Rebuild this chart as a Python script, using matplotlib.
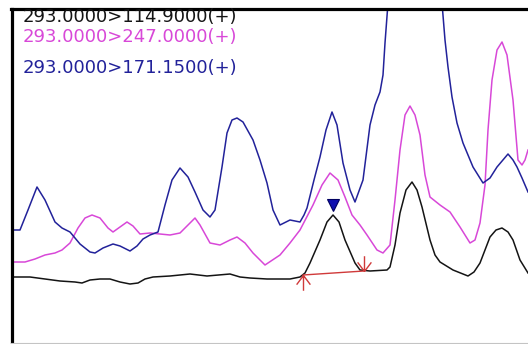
import matplotlib
matplotlib.use("Agg")
import matplotlib.pyplot as plt
from matplotlib.path import Path

# retention time (arbitrary units) / intensity readings per trace
black_t = [13, 30, 45, 60, 75, 82, 90, 100, 110, 120, 130, 138, 145, 153, 170, 190, 207,
           230, 240, 250, 267, 290, 300, 305, 310, 320, 327, 333, 339, 345, 355, 360, 370,
           387, 390, 395, 400, 406, 412, 417, 422, 430, 435, 440, 453, 468, 474, 480, 490,
           496, 502, 508, 513, 520, 528]
black_i = [67, 67, 65, 63, 62, 61, 64, 65, 65, 62, 60, 61, 65, 67, 68, 70, 68,
           70, 67, 66, 65, 65, 67, 71, 81, 104, 122, 129, 122, 104, 81, 74, 73,
           74, 77, 99, 131, 154, 162, 154, 137, 104, 89, 82, 74, 68, 72, 81, 107,
           114, 116, 112, 104, 84, 71]

magenta_t = [13, 25, 35, 45, 55, 62, 70, 78, 85, 92, 100, 108, 113, 120, 127, 133, 140,
             150, 170, 180, 188, 195, 200, 210, 220, 230, 237, 245, 253, 265, 280, 290,
             300, 313, 322, 330, 338, 345, 352, 360, 367, 377, 383, 390, 395, 400, 405,
             410, 415, 420, 425, 430, 440, 450, 460, 470, 475, 480, 485, 488, 492, 497,
             502, 507, 513, 518, 522, 525, 528]
magenta_i = [82, 82, 85, 89, 91, 94, 101, 116, 126, 129, 126, 116, 112, 117, 122, 118, 110,
             111, 109, 111, 119, 126, 119, 101, 99, 104, 107, 101, 91, 79, 89, 101,
             114, 139, 159, 171, 164, 147, 129, 119, 109, 94, 91, 99, 144, 194, 229,
             238, 229, 209, 169, 147, 139, 132, 117, 101, 104, 121, 159, 214, 264, 294,
             302, 289, 244, 184, 179, 184, 194]

# the big blue peak runs off scale, only its flanks are visible
blue_t = [13, 20, 28, 37, 45, 55, 62, 70, 80, 90, 95, 103, 113, 120, 130, 137, 143, 150,
          158, 165, 172, 180, 188, 195, 203, 210, 215, 222, 227, 232, 237, 243, 253, 260,
          267, 273, 280, 290, 300, 304, 307, 314, 320, 326, 332, 337, 343, 350, 355, 363,
          370, 375, 380, 383, 385, 388, 415, 442, 445, 448, 452, 457, 463,
          473, 483, 490, 497, 508, 513, 517, 522, 528]
blue_i = [114, 114, 134, 157, 144, 122, 116, 112, 100, 92, 91, 96, 100, 98, 93, 98, 105, 109,
          112, 139, 164, 176, 167, 152, 134, 127, 134, 177, 211, 224, 226, 222, 204, 184,
          161, 134, 119, 124, 122, 129, 136, 164, 187, 214, 232, 219, 181, 154, 142, 164,
          219, 239, 252, 269, 301, 341, 343, 341, 304, 277, 247, 221, 201,
          177, 161, 166, 177, 190, 184, 177, 166, 152]

labels = ["293.0000>114.9000(+)", "293.0000>247.0000(+)", "293.0000>171.1500(+)"]
colors = ["#141414", "#d848d8", "#22229a"]

# integrated peak: apex and baseline start/end
peak_t, peak_mark = 333, 139
base_t = [303, 364]
base_i = [69, 73]

fig = plt.figure(figsize=(5.28, 3.44), dpi=100)
ax = fig.add_axes([11.5 / 528, 1 / 344, 1 - 11.5 / 528, 334 / 344])

for t, i, c in zip([black_t, magenta_t, blue_t], [black_i, magenta_i, blue_i], colors):
    ax.plot(t, i, color=c, lw=1.1, solid_joinstyle="round")

ax.plot(base_t, base_i, color="#d03a3a", lw=1.0)
up = Path([(0, 0), (0, -1), (0, 0), (-0.45, -0.6), (0, 0), (0.45, -0.6)],
          [Path.MOVETO, Path.LINETO, Path.MOVETO, Path.LINETO, Path.MOVETO, Path.LINETO])
down = Path([(0, 0), (0, 1), (0, 0), (-0.45, 0.6), (0, 0), (0.45, 0.6)],
            [Path.MOVETO, Path.LINETO, Path.MOVETO, Path.LINETO, Path.MOVETO, Path.LINETO])
ax.plot(base_t[0], base_i[0], marker=up, ms=22, mec="#d03a3a", mew=1.0, ls="none")
ax.plot(base_t[1], base_i[1], marker=down, ms=22, mec="#d03a3a", mew=1.0, ls="none")
ax.plot(peak_t, peak_mark, marker="v", ms=9, color="#1010b0", mec="#000060", mew=0.8, ls="none")

text_y = [0.975, 0.915, 0.822]
for lab, c, y in zip(labels, colors, text_y):
    ax.text(0.022, y, lab, color=c, fontsize=13, family="DejaVu Sans",
            transform=ax.transAxes, va="center", ha="left")

ax.set_xlim(11.5, 528)
ax.set_ylim(1, 335)
ax.set_xticks([])
ax.set_yticks([])
for s in ["left", "top"]:
    ax.spines[s].set_linewidth(2.3)
    ax.spines[s].set_color("black")
ax.spines["right"].set_visible(False)
ax.spines["bottom"].set_linewidth(0.8)
ax.spines["bottom"].set_color("#c4c4c4")

fig.savefig("out.png", dpi=100)
